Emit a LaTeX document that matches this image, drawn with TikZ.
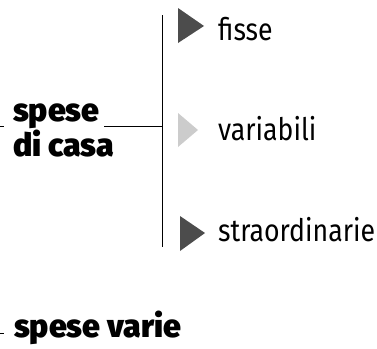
\documentclass[tikz,border=0pt]{standalone}
\usepackage{fontspec}
\setmainfont{Fira Sans}[BoldFont={Fira Sans Black}]
\begin{document}
\begin{tikzpicture}[x=1pt,y=-1pt,
  lbl/.style={anchor=base west,inner sep=0pt,xscale=0.86,font=\fontsize{31}{31}\selectfont},
  head/.style={anchor=base west,inner sep=0pt,font=\fontsize{32}{32}\selectfont\bfseries},
  ln/.style={line width=0.9pt}]
\useasboundingbox (0,0) rectangle (377,348);
\coordinate (vtop) at (162,15);
\coordinate (vbot) at (162,247);
\draw[ln] (vtop) -- (vbot);
\node[head] (casa1) at (13,121) {spese};
\node[head] (casa2) at (13,156) {di casa};
\coordinate (hj) at (162,126);
\coordinate (hs) at (104,126);
\draw[ln] (hs) -- (hj);
\coordinate (l1a) at (0,126);
\coordinate (l1b) at (4,126);
\draw[ln] (l1a) -- (l1b);
\fill[black!70] (178,8) -- (204,26) -- (178,43) -- cycle;
\fill[black!20] (178,113) -- (198,130) -- (178,147) -- cycle;
\fill[black!70] (180,216) -- (205,233) -- (180,251) -- cycle;
\node[lbl] (fisse) at (218,40) {fisse};
\node[lbl] (var) at (218,140) {variabili};
\node[lbl] (stra) at (218,241) {straordinarie};
\node[head] (varie) at (14,337) {spese varie};
\coordinate (l2a) at (0,333);
\coordinate (l2b) at (4,333);
\draw[ln] (l2a) -- (l2b);
\end{tikzpicture}
\end{document}
